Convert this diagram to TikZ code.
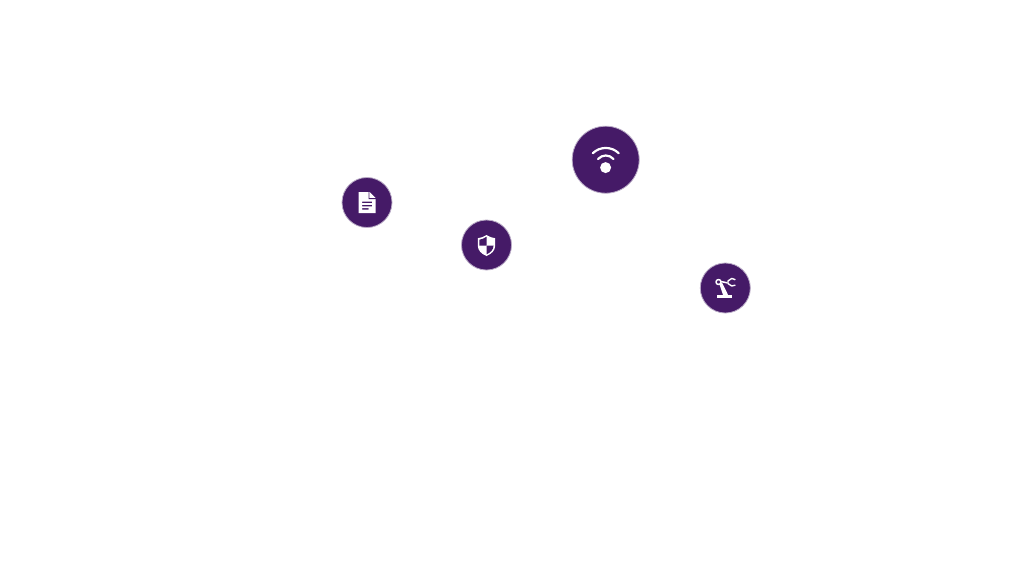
\documentclass[tikz,border=0pt]{standalone}
\definecolor{hubpurple}{HTML}{451A67}
\definecolor{hubedge}{HTML}{B9AAC6}
\tikzset{
  hub/.style={circle,fill=hubpurple,draw=hubedge,line width=0.8pt,inner sep=0pt,minimum size=#1},
  iconfill/.style={fill=white,draw=none},
  iconline/.style={draw=white,line cap=round,line join=round,fill=none}
}
\begin{document}
\begin{tikzpicture}[x=1pt,y=-1pt]
\useasboundingbox[fill=white] (0,0) rectangle (1024,576);
\node[hub=50pt] (doc) at (367,202.5) {};
\node[hub=50pt] (shield) at (486.5,245) {};
\node[hub=67pt] (wifi) at (605.7,159.7) {};
\node[hub=50pt] (robot) at (725.3,288) {};
% document
\fill[iconfill,even odd rule] (358.5,192) -- (369.5,192) -- (375.5,198) -- (375.5,213) -- (358.5,213) -- cycle
  (362,201.5) rectangle (372,203) (362,204.8) rectangle (372,206.3) (362,208.1) rectangle (368.5,209.6);
\fill[hubpurple] (369.4,191.5) -- (369.4,198.2) -- (376,198.2) -- (376,199) -- (368.7,199) -- (368.7,191.5) -- cycle;
% shield
\fill[iconfill] (486.5,235) .. controls (483,237) and (480.5,238) .. (477.8,238.2)
  -- (477.8,245.5) .. controls (477.8,250.5) and (481.5,254) .. (486.5,256)
  .. controls (491.5,254) and (495.2,250.5) .. (495.2,245.5)
  -- (495.2,238.2) .. controls (492.5,238) and (490,237) .. (486.5,235) -- cycle;
\fill[hubpurple] (486.5,236.8) .. controls (484,238.4) and (481.8,239.3) .. (479.4,239.7) -- (479.4,245.5) -- (486.5,245.5) -- cycle;
\fill[hubpurple] (486.5,245.5) -- (493.6,245.5) .. controls (493.4,249.8) and (490.2,252.8) .. (486.5,254.3) -- cycle;
% wifi
\fill[iconfill] (605.6,167.6) circle (5.5pt);
\draw[iconline,line width=2.2pt] (592.8,153.2) .. controls (600,146.2) and (611.5,146.2) .. (618.7,153.2);
\draw[iconline,line width=2.2pt] (598,159) .. controls (602.5,154.3) and (609,154.3) .. (613.5,159);
% robot
\fill[iconfill] (716.8,294.8) rectangle (732,297.6);
\fill[iconfill] (723,294.8) -- (719.5,284.5) -- (722,282.5) -- (728,294.8) -- cycle;
\draw[iconline,line width=1.5pt] (718.5,282) circle (2.5pt);
\draw[iconline,line width=1.5pt] (721,281.5) -- (727,282.8);
\draw[iconline,line width=1.4pt] (735,279.6) -- (731.8,278.4) -- (728,281) -- (728,283.6) -- (731.8,286) -- (735,285.2);
\end{tikzpicture}
\end{document}
